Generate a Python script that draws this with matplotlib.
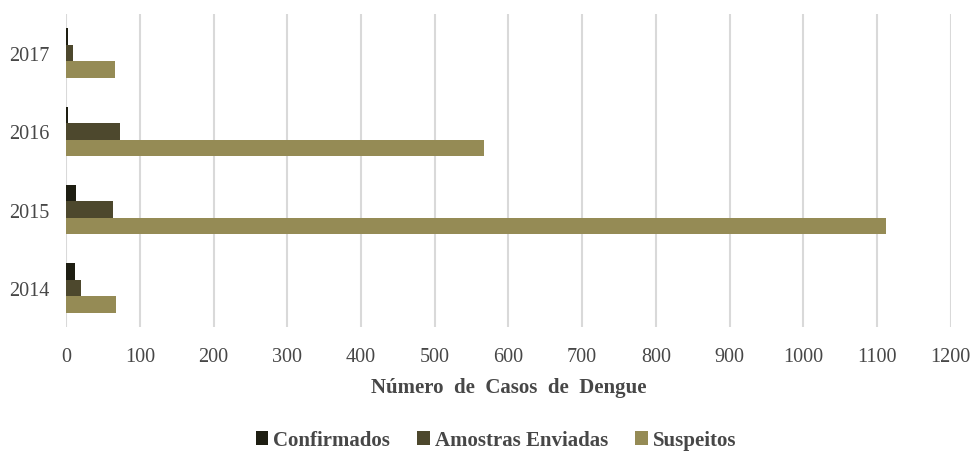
import matplotlib.pyplot as plt
import numpy as np

# dados
anos = ["2014", "2015", "2016", "2017"]
confirmados = [12, 14, 2, 2]
amostras = [20, 64, 73, 9]
suspeitos = [68, 1113, 567, 66]

series = ["Confirmados", "Amostras Enviadas", "Suspeitos"]
cores = ["#1e1e12", "#4d482d", "#958b55"]
texto = "#474747"

plt.rcParams["font.family"] = ["Liberation Serif", "DejaVu Serif"]

fig = plt.figure(figsize=(9.73, 4.52), dpi=100)
ax = fig.add_axes([0.068, 0.274, 0.909, 0.693])

y = np.arange(len(anos))
h = 0.21
ax.barh(y + h, confirmados, height=h, color=cores[0], label=series[0], zorder=3)
ax.barh(y, amostras, height=h, color=cores[1], label=series[1], zorder=3)
ax.barh(y - h, suspeitos, height=h, color=cores[2], label=series[2], zorder=3)

ax.set_xlim(0, 1200)
ax.set_ylim(-0.5, 3.5)
ax.set_xticks(np.arange(0, 1201, 100))
ax.set_yticks(y)
ax.set_yticklabels(anos)
ax.tick_params(axis="both", length=0, labelsize=14.5, labelcolor=texto)
ax.tick_params(axis="x", pad=14)
ax.tick_params(axis="y", pad=12)

ax.grid(axis="x", color="#d9d9d9", linewidth=1.5, zorder=0)
for s in ax.spines.values():
    s.set_visible(False)

ax.set_xlabel("N\u00famero  de  Casos  de  Dengue", fontsize=15, fontweight="bold",
              color=texto, labelpad=8)

leg = fig.legend(loc="lower center", bbox_to_anchor=(0.51, -0.04), ncol=3, frameon=False,
                 handlelength=0.6, handleheight=0.6, handletextpad=0.25, columnspacing=1.3,
                 prop={"size": 15, "weight": "bold"})
for t in leg.get_texts():
    t.set_color(texto)

plt.savefig("out.png", dpi=100)
